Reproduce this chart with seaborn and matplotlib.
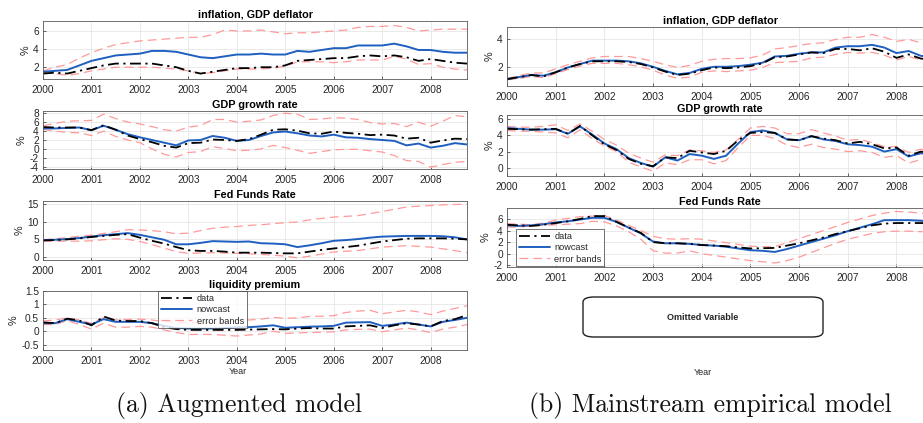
import numpy as np
import pandas as pd
import matplotlib
matplotlib.use("Agg")
import matplotlib.pyplot as plt
from matplotlib.patches import FancyBboxPatch
from matplotlib.lines import Line2D
import seaborn as sns

# ---------------- data (quarterly, 2000Q1 .. 2008Q4) ----------------
quarters = [2000 + i / 4 for i in range(36)]
year_ticks = [2000, 2001, 2002, 2003, 2004, 2005, 2006, 2007, 2008]

# (a) Augmented model
a_infl_now = [1.5,1.6,1.7,2.2,2.7,3.0,3.3,3.4,3.5,3.8,3.8,3.7,3.4,3.1,3.0,3.2,3.4,3.4,3.5,3.4,3.4,3.8,3.7,3.9,4.1,4.1,4.4,4.4,4.4,4.6,4.3,3.9,3.9,3.7,3.6,3.6]
a_infl_dat = [1.3,1.4,1.3,1.6,1.9,2.2,2.4,2.4,2.4,2.4,2.2,2.0,1.6,1.3,1.5,1.7,1.9,1.9,2.0,2.0,2.2,2.7,2.8,2.9,3.0,3.0,3.2,3.3,3.2,3.3,3.1,2.7,2.9,2.7,2.5,2.4]
a_infl_up = [1.6,2.0,2.3,3.0,3.6,4.1,4.5,4.7,4.9,5.0,5.1,5.2,5.3,5.3,5.6,6.1,6.0,6.0,6.1,5.9,5.7,5.8,5.8,5.9,6.0,6.1,6.4,6.5,6.5,6.6,6.4,6.0,6.1,6.2,6.2,6.2]
a_infl_lo = [1.4,1.3,1.1,1.3,1.6,1.8,2.0,2.0,2.0,2.0,1.9,1.8,1.6,1.3,1.4,1.6,1.8,1.8,1.8,1.9,2.1,2.6,2.6,2.6,2.5,2.6,2.8,2.8,2.8,3.2,2.9,2.3,2.4,2.0,1.8,1.7]

a_gdp_now = [4.6,4.6,4.7,4.8,4.2,5.2,4.3,3.3,2.6,2.0,1.4,0.8,1.9,2.0,2.9,2.5,1.8,2.0,2.9,3.7,3.9,3.5,3.0,2.8,3.2,2.6,2.5,2.2,2.0,1.8,0.8,1.2,0.3,0.7,1.3,1.0]
a_gdp_dat = [4.9,4.8,4.8,4.8,4.2,5.3,4.3,3.0,2.2,1.5,0.7,0.3,1.3,1.4,2.1,2.0,1.8,2.2,3.2,4.3,4.4,4.1,3.5,3.4,3.9,3.6,3.4,3.1,3.2,3.0,2.3,2.5,1.4,1.9,2.3,2.2]
a_gdp_up = [5.2,5.7,6.2,6.3,6.4,7.8,6.8,6.0,5.6,5.0,4.3,4.0,4.9,5.2,6.6,6.6,6.0,6.2,6.5,7.5,8.0,7.8,6.6,6.7,7.0,6.9,6.6,5.9,5.6,5.7,5.0,6.0,5.1,6.2,7.5,7.2]
a_gdp_lo = [4.4,4.0,3.7,3.6,3.0,4.0,2.8,2.0,1.4,0.0,-1.2,-1.8,-0.8,-0.6,0.5,0.1,-0.4,-0.3,0.0,0.8,0.3,-0.3,-1.0,-0.6,-0.2,-0.1,-0.1,-0.4,-0.7,-1.5,-2.6,-2.8,-4.1,-3.5,-3.0,-2.8]

a_ffr_now = [4.8,4.9,5.1,5.4,5.8,6.2,6.5,6.8,6.3,5.6,4.9,3.6,3.6,4.0,4.5,4.4,4.3,4.4,3.9,3.8,3.6,2.8,3.3,3.9,4.6,4.8,5.1,5.5,5.8,5.9,6.0,6.0,6.0,5.9,5.6,5.0]
a_ffr_dat = [4.7,4.8,5.0,5.3,5.7,6.0,6.3,6.5,5.5,4.6,3.8,2.8,1.9,1.7,1.7,1.5,1.2,1.2,1.2,1.1,1.0,1.0,1.5,2.0,2.4,2.8,3.2,3.8,4.4,4.8,5.2,5.3,5.3,5.3,5.2,5.0]
a_ffr_up = [4.9,5.2,5.5,5.9,6.2,6.7,7.2,7.8,7.7,7.5,7.2,6.6,6.8,7.5,8.2,8.5,8.7,9.0,9.2,9.5,9.8,10.0,10.6,11.0,11.4,11.6,11.8,12.4,13.0,13.6,14.3,14.5,14.7,14.9,15.0,15.1]
a_ffr_lo = [4.5,4.5,4.5,4.5,4.6,4.9,5.2,5.0,4.4,3.5,2.5,1.5,1.0,1.1,1.2,1.1,1.0,0.9,0.7,0.5,0.2,-0.3,0.2,0.8,1.4,1.6,1.8,2.3,2.8,3.0,3.2,3.0,2.8,2.3,1.8,1.2]

a_liq_now = [0.3,0.3,0.45,0.35,0.25,0.45,0.35,0.35,0.35,0.3,0.2,0.12,0.1,0.1,0.1,0.12,0.15,0.15,0.18,0.22,0.13,0.15,0.17,0.18,0.2,0.32,0.33,0.34,0.2,0.25,0.32,0.25,0.18,0.35,0.42,0.5]
a_liq_dat = [0.33,0.3,0.47,0.4,0.22,0.55,0.4,0.38,0.38,0.3,0.15,0.08,0.05,0.05,0.05,0.05,0.05,0.06,0.07,0.08,0.07,0.1,0.12,0.1,0.1,0.18,0.2,0.22,0.12,0.22,0.3,0.25,0.18,0.38,0.45,0.6]
a_liq_up = [0.38,0.42,0.5,0.42,0.3,0.5,0.42,0.44,0.45,0.42,0.35,0.33,0.32,0.32,0.32,0.35,0.4,0.42,0.45,0.52,0.48,0.5,0.55,0.56,0.58,0.7,0.75,0.78,0.65,0.72,0.78,0.72,0.62,0.75,0.85,0.95]
a_liq_lo = [0.25,0.25,0.4,0.25,0.08,0.3,0.15,0.15,0.18,0.15,0.05,-0.05,-0.12,-0.12,-0.12,-0.15,-0.18,-0.14,-0.1,0.0,-0.08,-0.06,-0.05,-0.04,-0.02,0.05,0.07,0.08,-0.02,0.05,0.12,0.05,-0.05,0.08,0.15,0.25]

# (b) Mainstream empirical model
b_infl_now = [1.1,1.25,1.4,1.35,1.6,1.95,2.2,2.45,2.45,2.45,2.4,2.25,2.0,1.7,1.45,1.55,1.85,2.0,2.0,2.05,2.15,2.3,2.75,2.8,2.95,3.05,3.05,3.4,3.5,3.5,3.6,3.4,3.0,3.15,2.8,2.7]
b_infl_dat = [1.1,1.25,1.4,1.3,1.6,1.95,2.2,2.4,2.4,2.4,2.35,2.2,1.95,1.65,1.4,1.5,1.75,1.95,1.9,1.95,2.05,2.25,2.7,2.75,2.9,3.05,3.0,3.3,3.3,3.2,3.35,3.1,2.65,2.9,2.6,2.5]
b_infl_up = [1.15,1.35,1.55,1.55,1.85,2.15,2.4,2.65,2.75,2.75,2.75,2.6,2.4,2.15,1.95,2.1,2.4,2.55,2.6,2.6,2.65,2.85,3.3,3.4,3.55,3.7,3.75,4.0,4.15,4.15,4.35,4.15,3.85,4.0,3.75,3.6]
b_infl_lo = [1.05,1.15,1.3,1.2,1.5,1.8,2.05,2.25,2.25,2.25,2.15,2.0,1.75,1.4,1.15,1.25,1.6,1.7,1.65,1.7,1.75,1.95,2.3,2.35,2.4,2.65,2.7,2.9,3.05,3.0,3.05,2.85,2.5,2.75,2.5,2.4]

b_gdp_now = [4.9,4.8,4.7,4.7,4.75,4.2,5.1,4.1,3.0,2.3,1.2,0.6,0.15,1.3,0.9,1.7,1.5,1.1,1.5,3.0,4.4,4.6,4.3,3.5,3.4,3.9,3.5,3.3,2.9,2.8,2.6,2.0,2.3,1.4,1.8,1.6]
b_gdp_dat = [4.8,4.75,4.7,4.75,4.8,4.2,5.15,4.0,2.9,2.2,1.1,0.5,0.2,1.3,1.2,2.1,1.9,1.7,2.1,3.4,4.3,4.4,4.3,3.5,3.4,3.9,3.6,3.4,3.0,3.2,2.9,2.4,2.5,1.5,2.0,1.8]
b_gdp_up = [5.1,5.0,5.0,5.1,5.3,4.6,5.4,4.5,3.5,2.8,1.8,1.2,0.7,1.6,1.5,2.2,2.1,1.9,2.2,3.5,4.9,5.1,4.9,4.2,4.2,4.7,4.3,3.9,3.4,3.5,3.1,2.6,2.6,1.9,2.3,2.1]
b_gdp_lo = [4.6,4.5,4.5,4.4,4.3,3.7,4.7,3.6,2.7,2.0,0.7,0.1,-0.4,0.6,0.4,1.0,1.0,0.5,0.9,2.5,4.0,4.0,3.6,2.8,2.5,2.9,2.5,2.3,2.0,2.1,1.9,1.3,1.5,0.6,1.0,1.1]

b_ffr_now = [4.9,4.8,4.9,5.1,5.4,5.6,5.9,6.2,6.2,5.5,4.5,3.5,2.1,1.8,1.8,1.7,1.5,1.4,1.2,0.9,0.6,0.5,0.3,0.8,1.4,2.0,2.6,3.2,3.9,4.5,5.1,5.8,5.8,5.8,5.7,5.5]
b_ffr_dat = [5.0,4.9,4.8,5.0,5.3,5.6,6.0,6.5,6.5,5.5,4.5,3.6,2.0,1.8,1.8,1.7,1.5,1.4,1.3,1.1,0.9,0.95,1.0,1.4,1.8,2.3,2.8,3.4,3.9,4.4,4.9,5.2,5.3,5.3,5.3,5.2]
b_ffr_up = [5.2,5.1,5.0,5.3,5.8,6.1,6.4,6.5,6.6,5.8,4.9,4.0,3.0,2.6,2.5,2.6,2.5,2.2,1.9,1.6,1.3,1.2,1.2,1.9,2.6,3.3,4.0,4.7,5.4,6.0,6.6,7.0,7.3,7.2,7.0,6.9]
b_ffr_lo = [4.6,4.6,4.8,4.9,5.0,5.1,5.2,5.6,5.5,4.8,3.8,2.5,0.5,0.1,0.1,0.5,0.0,-0.3,-0.6,-0.9,-1.2,-1.4,-1.6,-1.2,-0.6,0.2,1.0,1.8,2.5,3.0,3.5,3.8,3.9,3.9,3.8,3.8]

titles = ["inflation, GDP deflator", "GDP growth rate", "Fed Funds Rate", "liquidity premium"]
legend_labels = ["data", "nowcast", "error bands"]

# ---------------- style ----------------
sns.set_style("white")
plt.rcParams["font.family"] = ["Liberation Sans", "DejaVu Sans"]

C_DATA = "black"
C_NOW = "#1f5fc0"
C_BAND = "#ff9a9a"
TXT = "#262626"
DASH_BAND = (0, (7, 4))
DASH_DATA = (0, (6, 2.5, 1.2, 2.5))

W, H = 923, 423
fig = plt.figure(figsize=(W / 100, H / 100), dpi=100)


def add_ax(left, top, width, bottom):
    return fig.add_axes([left / W, 1 - bottom / H, width / W, (bottom - top) / H])


def draw_panel(ax, title, dat, now, up, lo, ylim, yticks):
    df = pd.DataFrame({"x": quarters, "data": dat, "nowcast": now, "up": up, "lo": lo})
    sns.lineplot(data=df, x="x", y="up", ax=ax, color=C_BAND, linestyle=DASH_BAND, lw=0.9)
    sns.lineplot(data=df, x="x", y="lo", ax=ax, color=C_BAND, linestyle=DASH_BAND, lw=0.9)
    sns.lineplot(data=df, x="x", y="nowcast", ax=ax, color=C_NOW, lw=1.4)
    sns.lineplot(data=df, x="x", y="data", ax=ax, color=C_DATA, linestyle=DASH_DATA, lw=1.3)
    ax.set_xlim(2000, 2008.75)
    ax.set_ylim(*ylim)
    ax.set_xticks(year_ticks)
    ax.set_yticks(yticks)
    ax.set_yticklabels([f"{t:g}" for t in yticks])
    ax.set_xlabel("")
    ax.set_ylabel("%", fontsize=7.8, color=TXT, labelpad=2)
    ax.set_title(title, fontsize=7.8, fontweight="bold", color="black", pad=2.5)
    ax.grid(True, color="#e6e6e6", lw=0.6)
    ax.tick_params(direction="in", length=2.5, width=0.5, labelsize=7.3, colors=TXT,
                   bottom=True, left=True)
    ax.tick_params(axis="x", pad=4.5)
    ax.tick_params(axis="y", pad=3)
    for s in ax.spines.values():
        s.set_visible(True)
        s.set_color("#5a5a5a")
        s.set_linewidth(0.6)


# ---------------- (a) ----------------
left_rows = [(21, 79), (111, 169), (201, 260), (291, 350)]
a_sets = [
    (a_infl_dat, a_infl_now, a_infl_up, a_infl_lo, (0.7, 7.1), [2, 4, 6]),
    (a_gdp_dat, a_gdp_now, a_gdp_up, a_gdp_lo, (-4.5, 8.5), [-4, -2, 0, 2, 4, 6, 8]),
    (a_ffr_dat, a_ffr_now, a_ffr_up, a_ffr_lo, (-0.9, 16), [0, 5, 10, 15]),
    (a_liq_dat, a_liq_now, a_liq_up, a_liq_lo, (-0.7, 1.5), [-0.5, 0, 0.5, 1, 1.5]),
]
axes_a = []
for (top, bot), title, s in zip(left_rows, titles, a_sets):
    ax = add_ax(43, top, 424, bot)
    draw_panel(ax, title, *s)
    axes_a.append(ax)

# ---------------- (b) ----------------
right_rows = [(27, 86), (115, 176), (208, 267)]
b_sets = [
    (b_infl_dat, b_infl_now, b_infl_up, b_infl_lo, (0.6, 4.9), [2, 4]),
    (b_gdp_dat, b_gdp_now, b_gdp_up, b_gdp_lo, (-1.0, 6.5), [0, 2, 4, 6]),
    (b_ffr_dat, b_ffr_now, b_ffr_up, b_ffr_lo, (-2.3, 7.9), [-2, 0, 2, 4, 6]),
]
axes_b = []
for (top, bot), title, s in zip(right_rows, titles[:3], b_sets):
    ax = add_ax(507, top, 426, bot)
    draw_panel(ax, title, *s)
    axes_b.append(ax)

# ---------------- legends ----------------
handles = [
    Line2D([], [], color=C_DATA, linestyle=DASH_DATA, lw=1.3),
    Line2D([], [], color=C_NOW, lw=1.4),
    Line2D([], [], color=C_BAND, linestyle=DASH_BAND, lw=0.9),
]
for ax, loc, anchor in [(axes_a[3], "upper left", (0.272, 0.995)),
                        (axes_b[2], "lower left", (0.021, 0.01))]:
    leg = ax.legend(handles, legend_labels, loc=loc, bbox_to_anchor=anchor, fontsize=6.6,
                    frameon=True, fancybox=False, handlelength=3.4, handletextpad=0.5,
                    borderpad=0.3, labelspacing=0.25, borderaxespad=0.0)
    leg.get_frame().set_edgecolor("#333333")
    leg.get_frame().set_linewidth(0.6)
    for t in leg.get_texts():
        t.set_color(TXT)

# ---------------- omitted-variable box ----------------
box = FancyBboxPatch((583 / W, 1 - 337 / H), 240 / W, 40 / H,
                     boxstyle="round,pad=0,rounding_size=0.012",
                     transform=fig.transFigure, facecolor="white",
                     edgecolor="#222222", lw=1.0)
fig.add_artist(box)
fig.text(703 / W, 1 - 317 / H, "Omitted Variable", ha="center", va="center",
         fontsize=6.5, fontweight="bold", color=TXT)

# ---------------- x labels & captions ----------------
fig.text(238 / W, 1 - 371 / H, "Year", ha="center", va="center", fontsize=6.5, color=TXT)
fig.text(703 / W, 1 - 372 / H, "Year", ha="center", va="center", fontsize=6.5, color=TXT)
fig.text(239 / W, 1 - 405 / H, "(a) Augmented model", ha="center", va="center",
         fontsize=18.5, family="cmr10", color="#111111")
fig.text(710 / W, 1 - 405 / H, "(b) Mainstream empirical model", ha="center", va="center",
         fontsize=18.5, family="cmr10", color="#111111")

fig.savefig("out.png", dpi=100, facecolor="white")
